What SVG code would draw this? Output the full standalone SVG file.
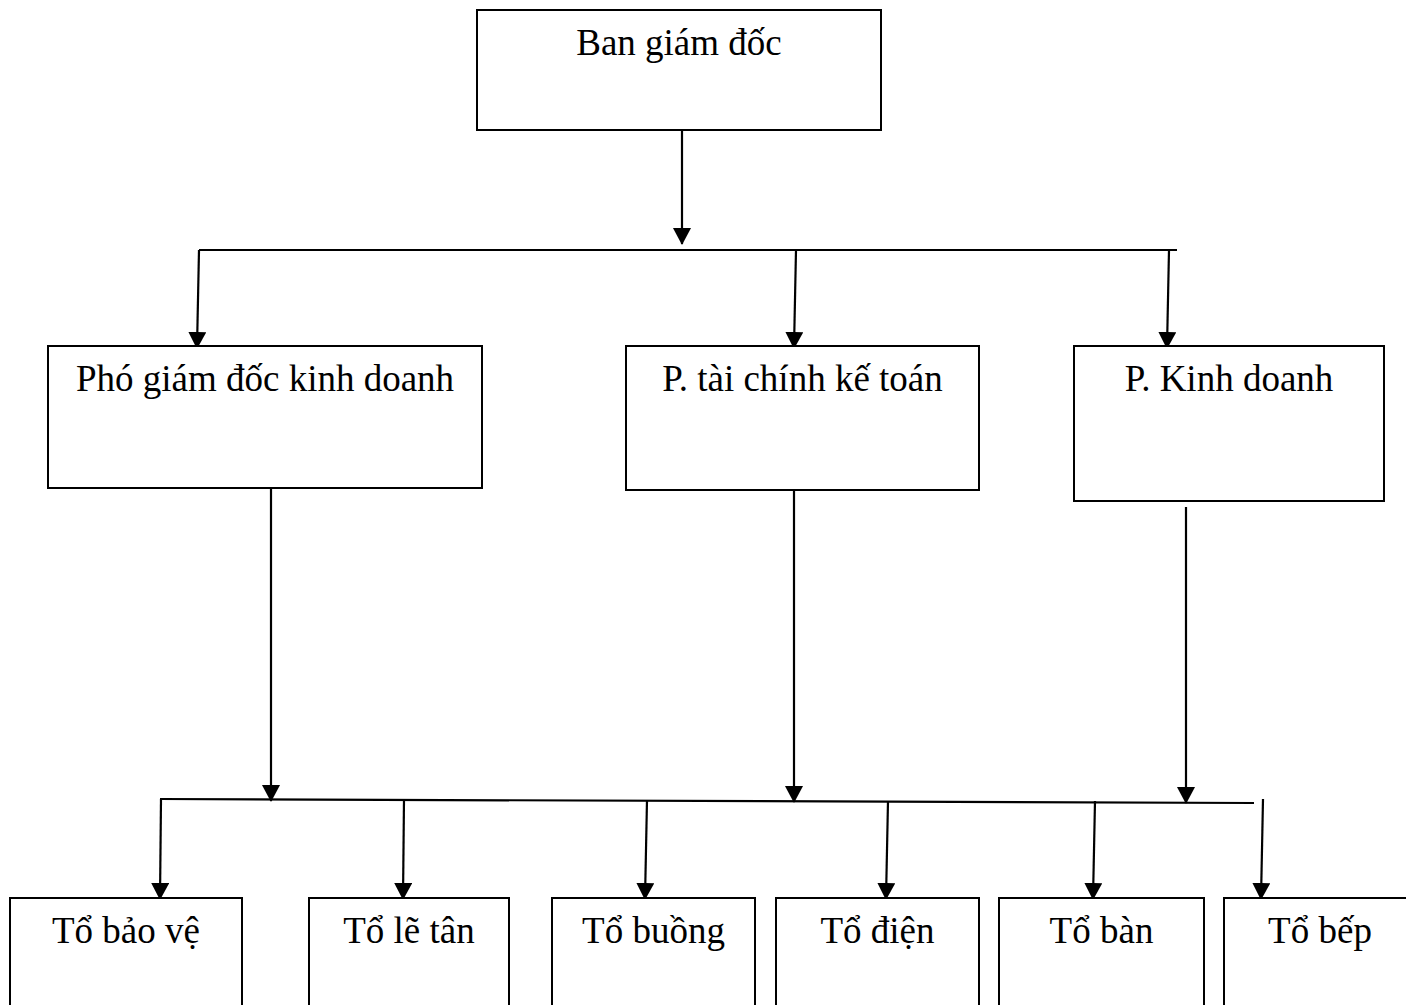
<svg xmlns="http://www.w3.org/2000/svg" width="1406" height="1005" viewBox="0 0 1406 1005">
<style>
.box{fill:#fff;stroke:#000;stroke-width:2}
.lbl{font-family:"Liberation Serif","Times New Roman",serif;font-size:37px;fill:#000;text-anchor:middle}
.ln{stroke:#000;stroke-width:2.2;fill:none}
.ar{stroke:#000;stroke-width:2.2;fill:none;marker-end:url(#arr)}
</style>
<defs>
<marker id="arr" markerUnits="userSpaceOnUse" markerWidth="17" markerHeight="18" refX="16" refY="9" orient="auto" viewBox="0 0 17 18">
<path d="M0,0 L17,9 L0,18 z" fill="#000"/>
</marker>
</defs>
<rect width="1406" height="1005" fill="#fff"/>
<g id="connectors">
<line class="ar" x1="682" y1="130" x2="682" y2="244"/>
<line class="ln" x1="199" y1="250" x2="1177" y2="250"/>
<line class="ar" x1="199" y1="250" x2="197" y2="348"/>
<line class="ar" x1="796" y1="250" x2="794" y2="348"/>
<line class="ar" x1="1169" y1="250" x2="1167" y2="348"/>
<line class="ar" x1="271" y1="488" x2="271" y2="801"/>
<line class="ar" x1="794" y1="490" x2="794" y2="802"/>
<line class="ar" x1="1186" y1="507" x2="1186" y2="803"/>
<line class="ln" x1="160" y1="799" x2="1254" y2="803"/>
<line class="ar" x1="161" y1="799" x2="160" y2="899"/>
<line class="ar" x1="404" y1="799" x2="403" y2="899"/>
<line class="ar" x1="647" y1="800" x2="645" y2="899"/>
<line class="ar" x1="888" y1="801" x2="886" y2="899"/>
<line class="ar" x1="1095" y1="801" x2="1093" y2="899"/>
<line class="ar" x1="1263" y1="799" x2="1261" y2="899"/>
</g>
<g id="ban-giam-doc">
<rect class="box" x="477" y="10" width="404" height="120"/>
<text class="lbl" x="679" y="55">Ban giám đốc</text>
</g>
<g id="pho-giam-doc">
<rect class="box" x="48" y="346" width="434" height="142"/>
<text class="lbl" x="265" y="391">Phó giám đốc kinh doanh</text>
</g>
<g id="p-tai-chinh">
<rect class="box" x="626" y="346" width="353" height="144"/>
<text class="lbl" x="802.5" y="391">P. tài chính kế toán</text>
</g>
<g id="p-kinh-doanh">
<rect class="box" x="1074" y="346" width="310" height="155"/>
<text class="lbl" x="1229" y="391">P. Kinh doanh</text>
</g>
<g id="to-bao-ve">
<rect class="box" x="10" y="898" width="232" height="120"/>
<text class="lbl" x="126" y="943">Tổ bảo vệ</text>
</g>
<g id="to-le-tan">
<rect class="box" x="309" y="898" width="200" height="120"/>
<text class="lbl" x="409" y="943">Tổ lẽ tân</text>
</g>
<g id="to-buong">
<rect class="box" x="552" y="898" width="203" height="120"/>
<text class="lbl" x="653.5" y="943">Tổ buồng</text>
</g>
<g id="to-dien">
<rect class="box" x="776" y="898" width="203" height="120"/>
<text class="lbl" x="877.5" y="943">Tổ điện</text>
</g>
<g id="to-ban">
<rect class="box" x="999" y="898" width="205" height="120"/>
<text class="lbl" x="1101.5" y="943">Tổ bàn</text>
</g>
<g id="to-bep">
<rect class="box" x="1224" y="898" width="200" height="120"/>
<text class="lbl" x="1320" y="943">Tổ bếp</text>
</g>
</svg>
